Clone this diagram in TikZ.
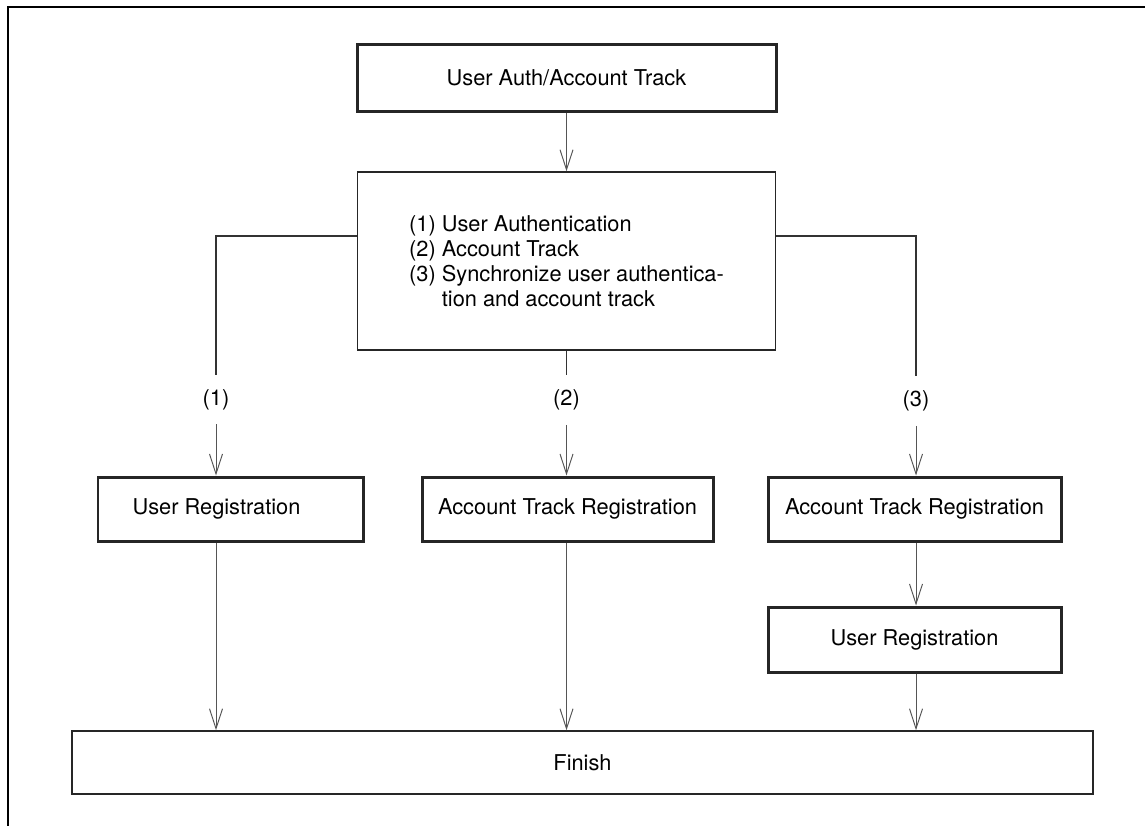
\documentclass[tikz,border=0pt]{standalone}
\usepackage{fontspec}
\setmainfont{TeX Gyre Heros}
\usetikzlibrary{positioning,arrows.meta}
\definecolor{linecol}{HTML}{555555}
\tikzset{
  box/.style={draw=black!85, line width=#1, fill=white, text=black,
    align=center, inner sep=0pt}}

\begin{document}
\begin{tikzpicture}[font=\fontsize{12.4pt}{14.2pt}\selectfont,
      thk/.style={box=1.7pt, minimum height=1.28cm},
      thn/.style={box=0.85pt},
      lbl/.style={inner sep=0pt, minimum height=0.98cm},
      arr/.style={-{Straight Barb[length=4mm, width=2.6mm]}, line width=0.55pt, linecol},
      lnk/.style={line width=0.7pt, black!80}]
      \useasboundingbox (0,0) rectangle (22.9,-16.5);
      \draw[line width=1.15pt] (0.16,-16.6) -- (0.16,-0.14) -- (23.0,-0.14);
      \node[thk, minimum width=8.38cm, minimum height=1.34cm] (auth) at (11.33,-1.55) {User Auth/Account Track};
      \node[thn, minimum width=8.36cm, minimum height=3.56cm, align=left] (mode) at (11.33,-5.22)
        {(1) User Authentication\\ (2) Account Track\\ (3) Synchronize user authentica-\\ \hphantom{(3) }tion and account track};
      \coordinate (b1) at (4.32,-4.72);
      \coordinate (b3) at (18.32,-4.72);
      \node[lbl] (l1) at (4.32,-7.99) {(1)};
      \node[lbl] (l2) at (11.33,-8.0) {(2)};
      \node[lbl] (l3) at (18.32,-8.02) {(3)};
      \node[thk, minimum width=5.3cm] (ur1) at (4.61,-10.18) {\hspace*{-0.56cm}User Registration};
      \node[thk, minimum width=5.82cm] (atr2) at (11.35,-10.18) {Account Track Registration};
      \node[thk, minimum width=5.86cm] (atr3) at (18.29,-10.18) {Account Track Registration};
      \node[thk, minimum width=5.86cm, minimum height=1.3cm] (ur3) at (18.29,-12.79) {User Registration};
      \node[thn, minimum width=20.42cm, minimum height=1.26cm] (fin) at (11.65,-15.25) {Finish};
      \draw[arr] (auth) -- (mode);
      \draw[lnk] (mode.west |- b1) -- (b1) -- (l1);
      \draw[lnk] (mode.south) -- (l2);
      \draw[lnk] (mode.east |- b3) -- (b3) -- (l3);
      \draw[arr] (l1) -- (l1 |- ur1.north);
      \draw[arr] (l2) -- (l2 |- atr2.north);
      \draw[arr] (l3) -- (l3 |- atr3.north);
      \draw[arr] (l3 |- atr3.south) -- (l3 |- ur3.north);
      \draw[arr] (l1 |- ur1.south) -- (l1 |- fin.north);
      \draw[arr] (l2 |- atr2.south) -- (l2 |- fin.north);
      \draw[arr] (l3 |- ur3.south) -- (l3 |- fin.north);
    \end{tikzpicture}
\end{document}
